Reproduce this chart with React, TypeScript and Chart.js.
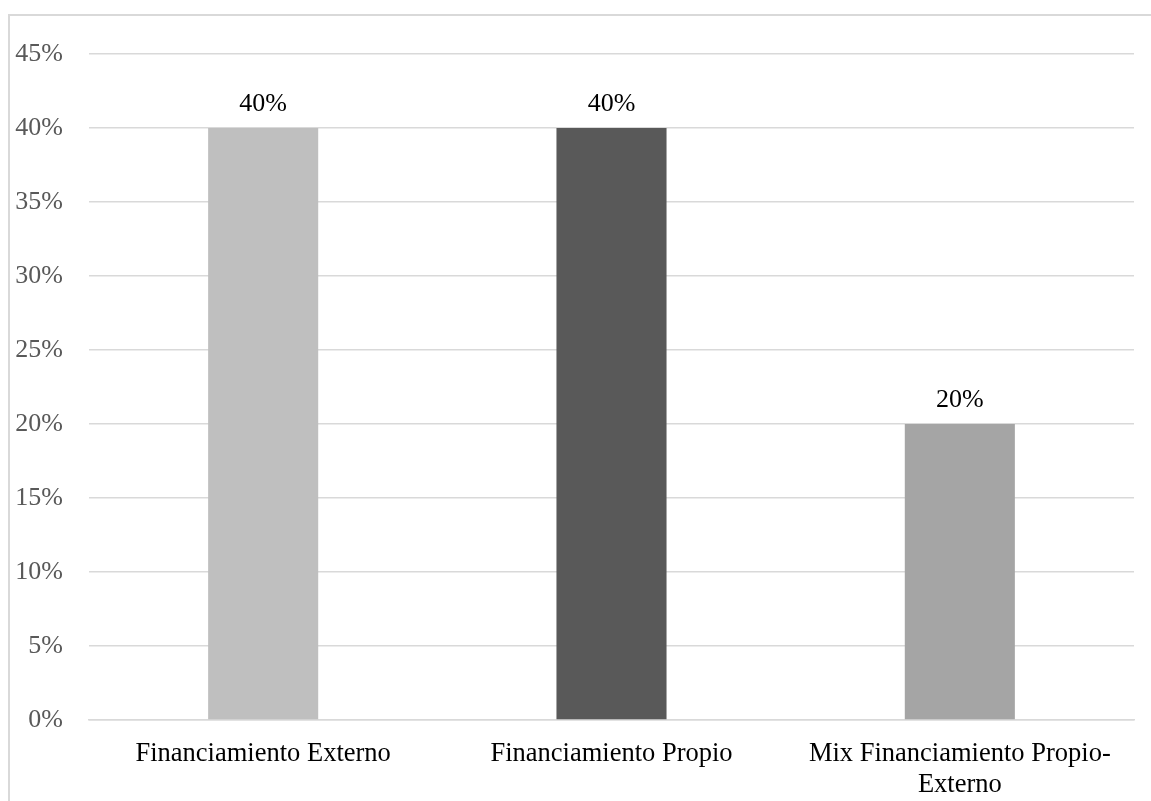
import React, { useEffect, useRef } from "react";
import { Chart, registerables } from "chart.js";

Chart.register(...registerables);

const categories: (string | string[])[] = [
  "Financiamiento Externo",
  "Financiamiento Propio",
  ["Mix Financiamiento Propio-", "Externo"],
];
const values: number[] = [40, 40, 20];
const barColors: string[] = ["#BFBFBF", "#595959", "#A5A5A5"];
const yTicks: number[] = [0, 5, 10, 15, 20, 25, 30, 35, 40, 45];

const FONT = "'Liberation Serif', 'Times New Roman', serif";

const dataLabelPlugin = {
  id: "dataLabels",
  afterDatasetsDraw(chart: any) {
    const ctx = chart.ctx;
    const meta = chart.getDatasetMeta(0);
    ctx.save();
    ctx.font = `26px ${FONT}`;
    ctx.fillStyle = "#000000";
    ctx.textAlign = "center";
    ctx.textBaseline = "alphabetic";
    meta.data.forEach((bar: any, i: number) => {
      ctx.fillText(values[i] + "%", bar.x, bar.y - 17);
    });
    ctx.restore();
  },
};

export default function App() {
  const canvasRef = useRef<HTMLCanvasElement | null>(null);

  useEffect(() => {
    if (!canvasRef.current) return;
    const chart = new Chart(canvasRef.current, {
      type: "bar",
      data: {
        labels: categories,
        datasets: [
          {
            data: values,
            backgroundColor: barColors,
            borderWidth: 0,
            barPercentage: 0.316,
            categoryPercentage: 1,
          },
        ],
      },
      options: {
        animation: false,
        responsive: false,
        maintainAspectRatio: false,
        layout: { padding: { top: 54, right: 17, left: 0, bottom: 0 } },
        plugins: {
          legend: { display: false },
          tooltip: { enabled: false },
        },
        scales: {
          x: {
            grid: { display: false, drawTicks: false },
            border: { display: true, color: "#D9D9D9", width: 1.5 },
            ticks: {
              color: "#000000",
              font: { family: FONT, size: 26.5, lineHeight: 1.18 },
              padding: 18,
              maxRotation: 0,
              autoSkip: false,
            },
            afterFit(scale: any) {
              scale.height = 81;
            },
          },
          y: {
            min: 0,
            max: 45,
            afterBuildTicks(scale: any) {
              scale.ticks = yTicks.map((v) => ({ value: v }));
            },
            grid: { color: "#D9D9D9", lineWidth: 1.5, drawTicks: false },
            border: { display: false },
            ticks: {
              color: "#595959",
              font: { family: FONT, size: 26 },
              padding: 26,
              callback: (v: any) => v + "%",
            },
            afterFit(scale: any) {
              scale.width = 89;
            },
          },
        },
      },
      plugins: [dataLabelPlugin],
    });
    return () => chart.destroy();
  }, []);

  return (
    <div style={{ position: "absolute", left: 0, top: 0, width: 1151, height: 801, overflow: "hidden", background: "#fff" }}>
      <div
        style={{
          position: "absolute",
          left: 8,
          top: 14,
          width: 1200,
          height: 900,
          border: "2px solid #D9D9D9",
          boxSizing: "border-box",
        }}
      />
      <canvas
        ref={canvasRef}
        width={1151}
        height={801}
        style={{ position: "absolute", left: 0, top: 0, width: 1151, height: 801 }}
      />
    </div>
  );
}
